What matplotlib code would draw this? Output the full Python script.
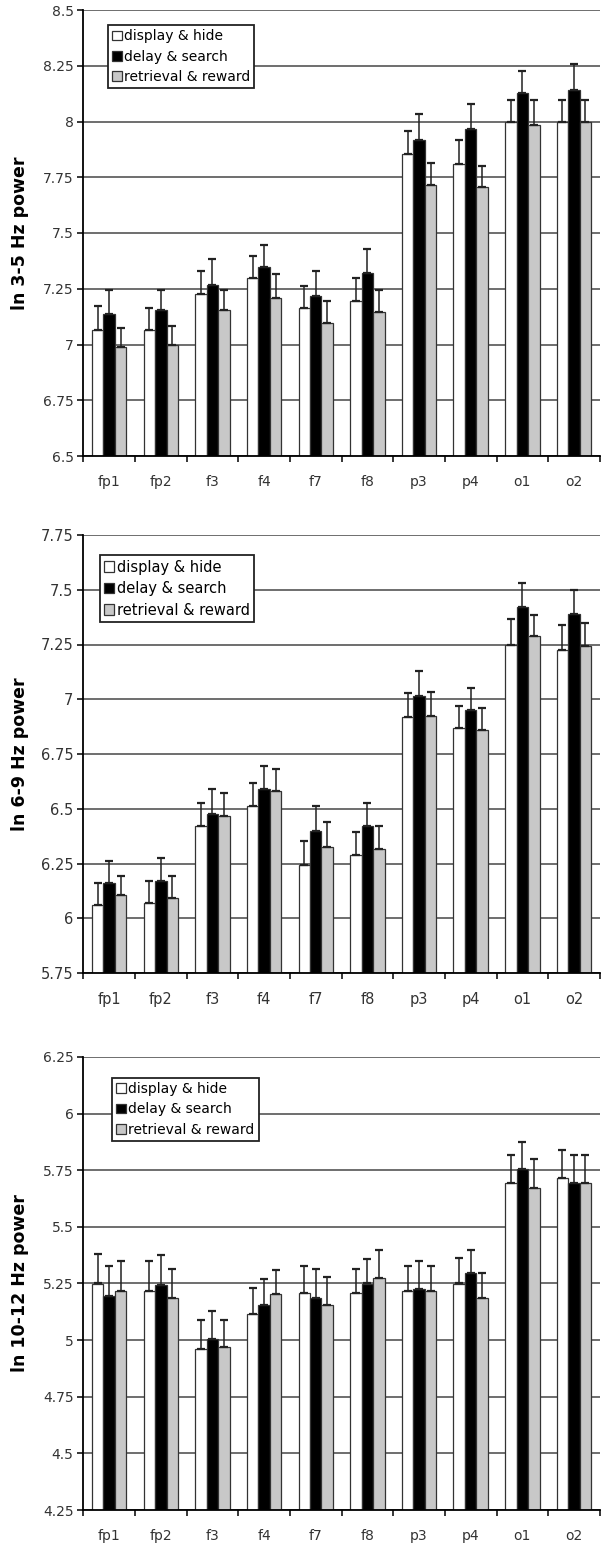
import numpy as np
from matplotlib import pyplot as plt
from matplotlib.ticker import FixedLocator, FuncFormatter

plt.rcParams["font.family"] = ["DejaVu Sans"]

ELECTRODES = ["fp1", "fp2", "f3", "f4", "f7", "f8", "p3", "p4", "o1", "o2"]
CONDITIONS = ["display & hide", "delay & search", "retrieval & reward"]

# ln 3-5 Hz power: means and upper error per condition
MEAN_3_5_DISPLAY = [7.067, 7.067, 7.225, 7.299, 7.162, 7.195, 7.854, 7.810, 7.996, 7.996]
MEAN_3_5_DELAY = [7.136, 7.153, 7.269, 7.346, 7.217, 7.322, 7.918, 7.966, 8.130, 8.142]
MEAN_3_5_RETRIEVAL = [6.988, 6.997, 7.153, 7.210, 7.097, 7.145, 7.716, 7.706, 7.985, 7.996]
ERR_3_5_DISPLAY = [0.105, 0.098, 0.104, 0.098, 0.100, 0.104, 0.104, 0.105, 0.101, 0.101]
ERR_3_5_DELAY = [0.108, 0.091, 0.116, 0.100, 0.112, 0.105, 0.115, 0.112, 0.098, 0.115]
ERR_3_5_RETRIEVAL = [0.087, 0.085, 0.091, 0.104, 0.098, 0.098, 0.097, 0.093, 0.112, 0.101]

# ln 6-9 Hz power
MEAN_6_9_DISPLAY = [6.060, 6.068, 6.420, 6.511, 6.243, 6.290, 6.917, 6.871, 7.250, 7.227]
MEAN_6_9_DELAY = [6.160, 6.171, 6.477, 6.589, 6.397, 6.420, 7.015, 6.950, 7.421, 7.391]
MEAN_6_9_RETRIEVAL = [6.105, 6.094, 6.466, 6.581, 6.324, 6.316, 6.924, 6.859, 7.291, 7.245]
ERR_6_9_DISPLAY = [0.103, 0.103, 0.108, 0.107, 0.108, 0.103, 0.110, 0.099, 0.117, 0.111]
ERR_6_9_DELAY = [0.101, 0.104, 0.112, 0.108, 0.116, 0.108, 0.114, 0.103, 0.112, 0.109]
ERR_6_9_RETRIEVAL = [0.089, 0.100, 0.108, 0.101, 0.115, 0.104, 0.109, 0.103, 0.095, 0.103]

# ln 10-12 Hz power
MEAN_10_12_DISPLAY = [5.250, 5.216, 4.963, 5.116, 5.209, 5.209, 5.216, 5.250, 5.692, 5.714]
MEAN_10_12_DELAY = [5.194, 5.243, 5.007, 5.157, 5.184, 5.250, 5.226, 5.297, 5.754, 5.692]
MEAN_10_12_RETRIEVAL = [5.216, 5.184, 4.971, 5.204, 5.157, 5.275, 5.216, 5.184, 5.672, 5.692]
ERR_10_12_DISPLAY = [0.131, 0.133, 0.128, 0.115, 0.117, 0.107, 0.110, 0.113, 0.125, 0.125]
ERR_10_12_DELAY = [0.132, 0.132, 0.121, 0.111, 0.128, 0.106, 0.123, 0.103, 0.122, 0.125]
ERR_10_12_RETRIEVAL = [0.133, 0.132, 0.116, 0.105, 0.121, 0.125, 0.110, 0.113, 0.126, 0.125]

FACES = ["white", "black", "#c8c8c8"]
W, H = 601, 1545


def panel(fig, top_px, bottom_px, means, errs, ylim, ylabel, legend_xy, fs):
    ax = fig.add_axes([83.3 / W, (H - bottom_px) / H, 516.5 / W,
                       (bottom_px - top_px) / H])
    x = np.arange(len(ELECTRODES))
    bw = 2 / 9
    for i, (m, e) in enumerate(zip(means, errs)):
        pos = x + (i - 1) * bw
        ax.bar(pos, np.array(m) - ylim[0], bw, bottom=ylim[0], color=FACES[i],
               edgecolor="#333333", linewidth=0.9, label=CONDITIONS[i], zorder=2)
        ax.errorbar(pos, m, yerr=[np.zeros(len(e)), e], fmt="none",
                    ecolor="#222222", elinewidth=1.1, capsize=3, capthick=1.6,
                    zorder=3)
    ax.set_xlim(-0.5, len(ELECTRODES) - 0.5)
    ax.set_ylim(*ylim)
    yt = np.arange(ylim[0], ylim[1] + 0.01, 0.25)
    ax.yaxis.set_major_locator(FixedLocator(yt))
    ax.yaxis.set_major_formatter(FuncFormatter(lambda v, p: f"{v:g}"))
    ax.set_xticks(x)
    ax.set_xticklabels(ELECTRODES)
    ax.set_xticks(np.arange(-0.5, len(ELECTRODES)), minor=True)
    ax.tick_params(axis="x", which="major", length=0, pad=fs + 3.5,
                   labelsize=fs, labelcolor="#333333")
    ax.tick_params(axis="x", which="minor", length=4, width=1.1,
                   direction="out", color="black")
    ax.tick_params(axis="y", length=4, width=1.1, direction="out", pad=3,
                   labelsize=fs, labelcolor="#333333")
    ax.set_axisbelow(True)
    ax.yaxis.grid(True, color="#555555", linewidth=1.2)
    for s in ["top", "right"]:
        ax.spines[s].set_visible(False)
    for s in ["left", "bottom"]:
        ax.spines[s].set_linewidth(1.3)
        ax.spines[s].set_color("black")
    ax.set_ylabel(ylabel, fontsize=12.5, fontweight="bold")
    ax.yaxis.set_label_coords(-0.106, 0.5)
    leg = ax.legend(loc="upper left", bbox_to_anchor=legend_xy, fontsize=fs,
                    fancybox=False, framealpha=1, edgecolor="#222222",
                    handlelength=0.7, handleheight=0.7, handletextpad=0.15,
                    borderpad=0.3, labelspacing=0.45, borderaxespad=0)
    leg.get_frame().set_linewidth(1.3)
    return ax


def main() -> None:
    fig = plt.figure(figsize=(W / 100, H / 100), dpi=100)
    panel(fig, 10, 456,
          [MEAN_3_5_DISPLAY, MEAN_3_5_DELAY, MEAN_3_5_RETRIEVAL],
          [ERR_3_5_DISPLAY, ERR_3_5_DELAY, ERR_3_5_RETRIEVAL],
          (6.5, 8.5), "ln 3-5 Hz power", (0.048, 0.966), 10)
    panel(fig, 535, 973,
          [MEAN_6_9_DISPLAY, MEAN_6_9_DELAY, MEAN_6_9_RETRIEVAL],
          [ERR_6_9_DISPLAY, ERR_6_9_DELAY, ERR_6_9_RETRIEVAL],
          (5.75, 7.75), "ln 6-9 Hz power", (0.032, 0.954), 10.5)
    panel(fig, 1057, 1510,
          [MEAN_10_12_DISPLAY, MEAN_10_12_DELAY, MEAN_10_12_RETRIEVAL],
          [ERR_10_12_DISPLAY, ERR_10_12_DELAY, ERR_10_12_RETRIEVAL],
          (4.25, 6.25), "ln 10-12 Hz power", (0.056, 0.954), 10)
    fig.savefig("out.png", dpi=100)


if __name__ == "__main__":
    main()
